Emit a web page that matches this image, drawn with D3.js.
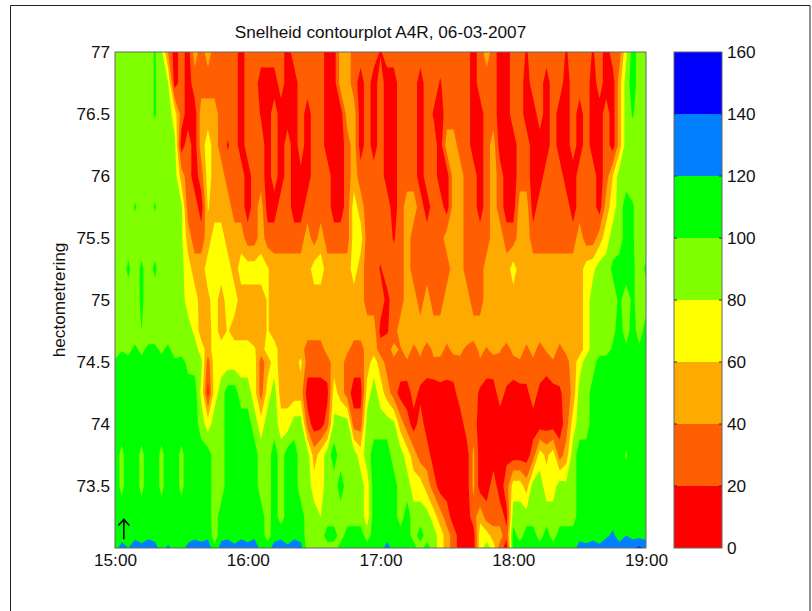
<!DOCTYPE html>
<html>
<head>
<meta charset="utf-8">
<script src="https://cdn.jsdelivr.net/npm/d3@7"></script>
<style>
    body { margin: 0; background: #fff; }
    text { font-family: "Liberation Sans", Arial, sans-serif; fill: #111; }
</style>
</head>
<body>
<div id="chart"></div>
<script>
const titleText = 'Snelheid contourplot A4R, 06-03-2007';
const yLabelText = 'hectometrering';
const timeTicks = [0, 60, 120, 180, 240];
const timeTickLabels = ['15:00', '16:00', '17:00', '18:00', '19:00'];
const kmTicks = [73.5, 74, 74.5, 75, 75.5, 76, 76.5, 77];
const speedLevels = [0, 20, 40, 60, 80, 100, 120, 140, 160];
const levelColors = ['#ff0000', '#ff5f00', '#ffaa00', '#ffff00', '#80ff00', '#00ff00', '#0080ff', '#0000ff'];
const arrowMinutes = [4, 4];
const arrowKm = [73.07, 73.23];

// minutes after 15:00 of every column, one measurement per 3 minutes
const minuteColumns = d3.range(0, 243, 3);
const kmRows = [77, 76.75, 76.5, 76.25, 76, 75.75, 75.5, 75.25, 75, 74.75, 74.6, 74.5, 74.25, 74, 73.75, 73.5, 73.25, 73.1, 73];

const speedAt7700 = [90,90,90,100,90,90,102,85,40,10, 30,10,50,30,50,30,30,30,30,10, 30,30,30,30,30,30,10,30,30,30, 30,30,10,10,50,50,30,30,30,30, 18,30,30,30,30,30,30,30,30,30, 30,30,30,30,10,30,50,30,10,10, 30,30,18,30,30,30,30,30,18,30, 30,30,18,30,10,30,30,75,110,90, 90];
const speedAt7675 = [90,90,90,100,90,90,102,90,80,10, 30,10,30,30,30,30,30,30,30,10, 30,30,10,10,10,30,10,10,30,30, 30,30,10,10,50,50,30,10,30,10, 30,10,10,30,30,30,10,30,30,18, 30,30,30,30,10,30,30,30,10,10, 30,30,10,30,30,10,30,30,10,30, 30,30,10,30,10,10,50,90,110,90, 90];
const speedAt7650 = [90,90,90,90,90,90,102,90,90,70, 30,10,10,50,50,50,30,30,30,10, 30,30,18,10,30,10,10,10,30,10, 30,30,10,10,10,50,50,10,30,10, 30,10,10,30,30,30,10,30,18,10, 30,30,30,30,10,10,30,30,10,10, 30,30,10,10,30,10,30,10,10,30, 10,30,10,10,30,10,50,90,102,90, 90];
const speedAt7625 = [90,90,90,90,90,90,90,90,90,85, 10,30,10,50,70,50,30,18,30,10, 30,30,30,10,30,10,30,10,30,10, 30,30,10,10,10,30,50,10,30,10, 30,10,10,30,30,30,10,30,30,10, 50,50,30,30,10,10,30,50,10,10, 10,30,30,10,10,10,30,10,10,30, 10,30,10,10,30,10,50,90,90,90, 90];
const speedAt7600 = [90,90,90,90,90,90,90,90,90,90, 50,30,10,30,70,50,50,30,30,30, 10,30,30,10,30,10,30,10,15,10, 30,30,30,10,10,30,50,30,30,30, 30,10,10,30,30,30,10,30,30,10, 10,50,50,30,30,10,30,50,30,10, 10,30,30,10,10,30,30,30,10,10, 30,30,30,10,30,60,90,90,90,90, 90];
const speedAt7575 = [90,90,90,102,90,90,102,90,90,90, 85,30,30,10,62,50,50,50,30,30, 10,30,50,10,10,30,30,10,10,30, 30,30,30,10,10,30,70,50,30,30, 30,30,10,30,50,50,30,10,30,30, 10,50,50,30,30,10,30,50,30,10, 10,50,50,10,30,30,30,30,30,10, 30,30,30,10,50,70,90,110,102,90, 90];
const speedAt7550 = [90,90,90,90,90,90,90,90,90,90, 85,50,30,30,50,70,70,50,50,50, 30,30,50,30,30,30,30,30,30,50, 30,50,30,30,30,30,70,70,30,30, 30,30,18,30,50,30,30,30,30,30, 50,50,50,30,30,30,30,50,50,30, 30,50,50,30,30,30,30,30,30,30, 50,30,30,50,70,90,90,110,102,90, 90];
const speedAt7525 = [90,90,104,90,104,90,104,90,90,90, 85,70,50,50,70,70,70,70,50,70, 70,70,70,62,50,50,50,50,50,50, 70,70,50,50,50,50,70,50,30,30, 18,30,30,30,50,30,30,30,30,30, 30,50,50,30,30,30,50,50,50,50, 70,50,50,50,50,50,50,50,50,50, 50,70,75,90,90,104,110,110,104,90, 104];
const speedAt7500 = [90,90,90,90,104,90,90,90,90,90, 90,70,70,50,55,70,50,70,70,50, 50,50,50,62,50,50,50,50,50,50, 50,50,50,50,50,50,50,50,30,30, 30,14,30,30,50,50,30,50,30,30, 50,50,50,50,30,30,50,50,50,50, 50,50,50,50,50,50,50,50,50,50, 50,70,90,90,90,90,104,90,104,90, 90];
const speedAt7475 = [90,90,90,90,100,90,90,90,90,90, 90,90,75,50,50,70,50,62,50,50, 50,50,50,62,50,50,50,50,50,50, 50,50,50,50,50,50,50,50,50,50, 14,18,30,50,50,50,50,50,50,50, 50,50,50,50,50,50,50,50,50,50, 50,50,50,50,50,50,50,50,50,50, 50,70,90,90,90,94,110,90,110,90, 110];
const speedAt7460 = [88,98,95,104,96,104,104,97,104,92, 90,90,90,70,50,70,70,70,70,70, 70,62,50,70,70,50,50,50,50,30, 30,30,50,50,50,45,30,30,50,50, 30,32,46,38,48,36,44,33,43,47, 35,46,43,37,31,45,38,48,41,34, 44,47,36,46,33,42,48,35,45,47, 50,70,90,90,90,104,110,104,110,104, 110];
const speedAt7450 = [104,112,106,115,104,112,118,105,112,103, 108,94,92,85,30,70,70,70,70,70, 70,70,30,50,70,50,45,50,65,30, 30,30,30,50,50,30,30,30,50,70, 50,32,36,34,38,30,37,33,38,35, 36,31,37,34,32,38,35,30,37,33, 36,38,32,37,34,30,38,35,33,50, 70,90,90,110,110,110,110,110,110,110, 110];
const speedAt7425 = [110,110,110,110,110,110,110,110,110,110, 110,110,110,75,14,70,90,110,110,90, 90,70,30,70,90,50,50,50,50,10, 10,10,15,70,50,30,10,10,70,90, 70,50,30,12,8,30,14,8,6,12, 8,14,30,30,30,16,7,12,28,16, 8,12,15,30,14,8,12,16,30,45, 90,90,110,110,110,110,110,110,110,110, 110];
const speedAt7400 = [110,110,110,110,110,110,110,110,110,110, 110,110,110,90,70,90,90,110,110,110, 110,90,70,90,90,70,70,90,90,30, 10,10,30,85,90,90,30,30,90,90, 90,90,85,50,30,10,30,10,10,10, 10,10,10,30,30,10,10,10,10,10, 10,10,10,10,10,10,10,10,30,70, 90,90,110,110,110,110,110,110,110,110, 110];
const speedAt7375 = [110,95,110,110,95,110,110,95,110,110, 95,110,110,110,110,90,90,110,110,110, 110,110,90,90,110,90,110,110,90,90, 50,70,90,110,90,90,90,70,90,110, 110,110,90,90,70,50,30,30,10,10, 10,10,10,10,45,10,10,10,10,15, 10,10,10,30,70,55,70,30,50,90, 110,110,110,110,110,110,110,98,110,110, 110];
const speedAt7350 = [110,95,110,110,95,110,110,95,110,110, 95,110,110,110,110,90,90,110,110,110, 110,110,90,90,110,90,110,110,90,90, 70,70,90,90,110,90,90,90,70,110, 110,110,110,90,90,70,70,50,30,10, 10,10,10,10,45,10,10,30,10,30, 70,70,50,90,90,70,70,90,85,90, 110,110,110,110,110,110,110,110,110,110, 110];
const speedAt7325 = [110,110,110,110,110,110,110,110,110,110, 110,110,110,110,110,90,110,110,110,110, 110,110,110,90,110,90,110,110,110,90, 90,80,90,90,90,90,90,90,70,110, 110,110,110,90,110,90,90,90,70,50, 30,10,10,10,30,55,30,30,30,15, 90,90,90,90,90,90,90,90,90,90, 110,110,110,110,110,110,110,110,110,110, 110];
const speedAt7310 = [110,112,110,114,112,114,112,110,110,110, 110,112,114,112,114,90,112,114,112,114, 112,114,110,90,112,114,110,114,112,90, 90,90,110,110,90,110,110,110,90,110, 110,110,110,110,110,90,110,90,90,70, 50,30,10,10,10,70,70,50,50,25, 110,90,110,110,90,110,90,110,110,110, 110,110,110,112,116,124,110,120,112,114, 112];
const speedAt7300 = [112,128,120,132,125,134,128,112,124,112, 112,126,133,128,135,105,130,135,124,134, 127,136,112,112,128,133,124,135,127,90, 90,90,90,90,110,110,110,110,110,110, 110,130,110,110,110,110,90,110,90,70, 50,30,10,10,10,70,90,70,30,10, 110,110,110,110,110,110,110,110,110,110, 132,126,135,124,136,140,130,128,138,144, 136];

const speedRows = [speedAt7700, speedAt7675, speedAt7650, speedAt7625, speedAt7600, speedAt7575, speedAt7550, speedAt7525, speedAt7500, speedAt7475, speedAt7460, speedAt7450, speedAt7425, speedAt7400, speedAt7375, speedAt7350, speedAt7325, speedAt7310, speedAt7300];

const width = 812;
const height = 611;
const plot = { left: 115, right: 646, top: 52, bottom: 548 };
const bar = { left: 674, right: 722 };
const axisGrey = '#666';

const svg = d3.select('#chart').append('svg')
    .attr('width', width)
    .attr('height', height);

// figure frame, open at the bottom
svg.append('path')
    .attr('d', 'M10.5,' + height + 'V5.5H810H810V' + height)
    .attr('fill', 'none')
    .attr('stroke', '#222')
    .attr('stroke-width', 1);

const x = d3.scaleLinear().domain([0, 240]).range([plot.left, plot.right]);
const y = d3.scaleLinear().domain([73, 77]).range([plot.bottom, plot.top]);
const barY = d3.scaleLinear().domain([0, 160]).range([plot.bottom, plot.top]);

// d3.contours puts sample i at i + 0.5, these scales bring that back to time and km
const gridX = d3.scaleLinear()
    .domain(minuteColumns.map(function(d, i) { return i + 0.5; }))
    .range(minuteColumns.map(function(d) { return x(d); }))
    .clamp(true);
const gridY = d3.scaleLinear()
    .domain(kmRows.map(function(d, i) { return i + 0.5; }))
    .range(kmRows.map(function(d) { return y(d); }))
    .clamp(true);

const gridPath = d3.geoPath(d3.geoTransform({
    point: function(px, py) {
        this.stream.point(gridX(px), gridY(py));
    }
}));

const contours = d3.contours()
    .size([minuteColumns.length, kmRows.length])
    .thresholds(speedLevels.slice(0, -1))(speedRows.flat());

svg.append('g').selectAll('path')
    .data(contours)
    .enter()
    .append('path')
    .attr('d', gridPath)
    .attr('fill', function(d, i) { return levelColors[i]; });

// arrow for driving direction
const arrowG = svg.append('g').attr('fill', 'none').attr('stroke', '#000').attr('stroke-width', 1.6);
arrowG.append('line')
    .attr('x1', x(arrowMinutes[0]))
    .attr('x2', x(arrowMinutes[1]))
    .attr('y1', y(arrowKm[0]))
    .attr('y2', y(arrowKm[1]));
arrowG.append('path')
    .attr('d', d3.line()([
        [x(arrowMinutes[1]) - 5.5, y(arrowKm[1]) + 6],
        [x(arrowMinutes[1]), y(arrowKm[1])],
        [x(arrowMinutes[1]) + 5.5, y(arrowKm[1]) + 6]
    ]));

// plot box
svg.append('rect')
    .attr('x', plot.left)
    .attr('y', plot.top)
    .attr('width', plot.right - plot.left)
    .attr('height', plot.bottom - plot.top)
    .attr('fill', 'none')
    .attr('stroke', axisGrey);

const xAxis = d3.axisBottom(x)
    .tickValues(timeTicks)
    .tickFormat(function(d, i) { return timeTickLabels[i]; })
    .tickSize(0)
    .tickPadding(6);
const yAxis = d3.axisLeft(y)
    .tickValues(kmTicks)
    .tickFormat(d3.format('~g'))
    .tickSize(0)
    .tickPadding(5);

const xAxisG = svg.append('g').attr('transform', 'translate(0,' + plot.bottom + ')').call(xAxis);
const yAxisG = svg.append('g').attr('transform', 'translate(' + plot.left + ',0)').call(yAxis);

// colour bar
svg.append('g').selectAll('rect')
    .data(levelColors)
    .enter()
    .append('rect')
    .attr('x', bar.left)
    .attr('width', bar.right - bar.left)
    .attr('y', function(d, i) { return barY(speedLevels[i + 1]); })
    .attr('height', function(d, i) { return barY(speedLevels[i]) - barY(speedLevels[i + 1]); })
    .attr('fill', function(d) { return d; });

svg.append('rect')
    .attr('x', bar.left)
    .attr('y', plot.top)
    .attr('width', bar.right - bar.left)
    .attr('height', plot.bottom - plot.top)
    .attr('fill', 'none')
    .attr('stroke', axisGrey);

const barAxis = d3.axisRight(barY)
    .tickValues(speedLevels)
    .tickSize(0)
    .tickPadding(5);
const barAxisG = svg.append('g').attr('transform', 'translate(' + bar.right + ',0)').call(barAxis);

// small inward ticks at the colour boundaries
svg.append('g').selectAll('path')
    .data(speedLevels.slice(1, -1))
    .enter()
    .append('path')
    .attr('d', function(d) {
        return 'M' + bar.left + ',' + barY(d) + 'h3M' + bar.right + ',' + barY(d) + 'h-3';
    })
    .attr('stroke', '#333');

[xAxisG, yAxisG, barAxisG].forEach(function(g) {
    g.select('.domain').remove();
    g.selectAll('text').attr('font-size', 17.2).attr('font-family', '"Liberation Sans", Arial, sans-serif').attr('fill', '#111');
});

svg.append('text')
    .attr('x', (plot.left + plot.right) / 2)
    .attr('y', 38)
    .attr('text-anchor', 'middle')
    .attr('font-size', 17.2)
    .text(titleText);

svg.append('text')
    .attr('transform', 'translate(65,' + (plot.top + plot.bottom) / 2 + ') rotate(-90)')
    .attr('text-anchor', 'middle')
    .attr('font-size', 17.2)
    .text(yLabelText);
</script>
</body>
</html>
